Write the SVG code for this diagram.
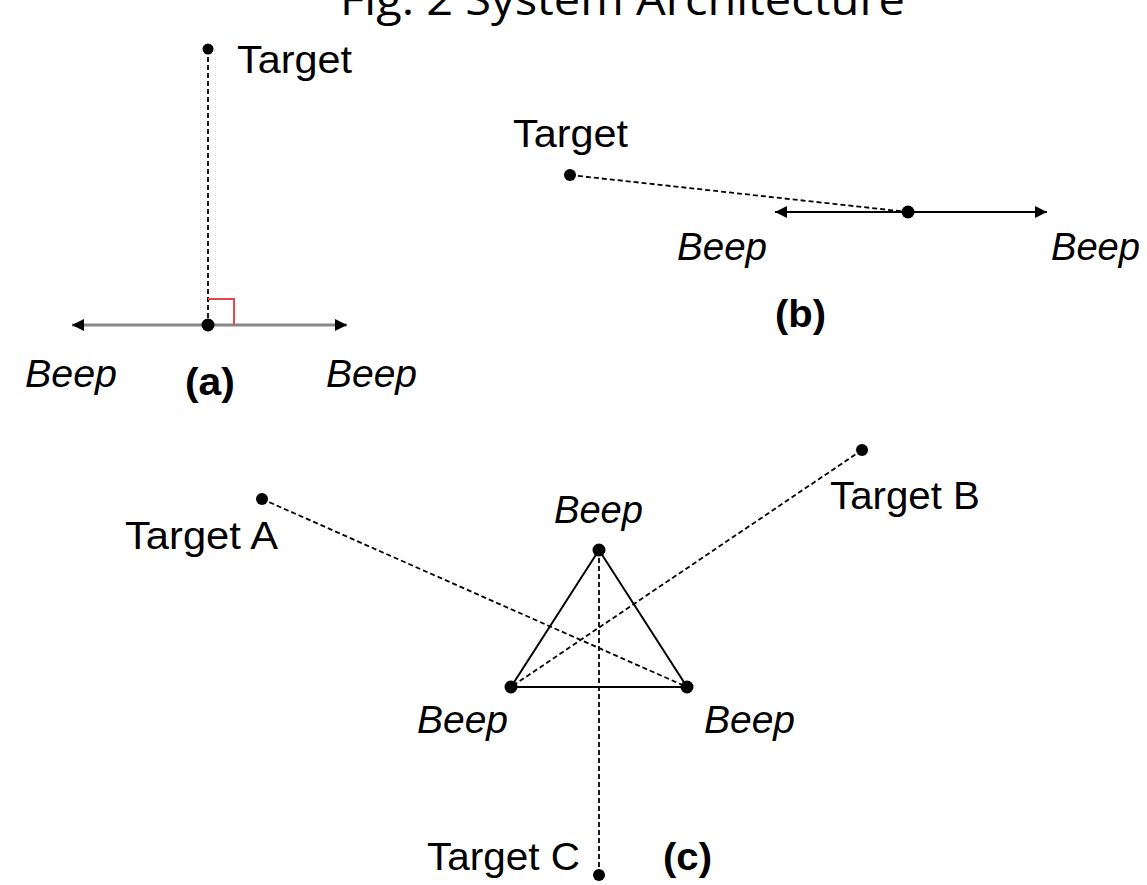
<svg xmlns="http://www.w3.org/2000/svg" width="1147" height="885" viewBox="0 0 1147 885">
<defs>
<style>
.lbl{font-family:"Liberation Sans",Arial,sans-serif;font-size:38px;fill:#000}
.it{font-style:italic}
.bd{font-weight:bold}
.dash{stroke:#000;stroke-width:1.8;stroke-dasharray:5 3;fill:none}
.solid{stroke:#000;stroke-width:2;fill:none}
.dot{fill:#000}
</style>
<marker id="ah" viewBox="0 0 10 10" refX="10" refY="5" markerWidth="13" markerHeight="12" markerUnits="userSpaceOnUse" orient="auto-start-reverse">
<path d="M0,0 L10,5 L0,10 Z" fill="#000"/>
</marker>
</defs>
<rect width="1147" height="885" fill="#fff"/>
<text x="340" y="15" font-family="'Open Sans',Carlito,sans-serif" font-size="44" textLength="565" lengthAdjust="spacingAndGlyphs">Fig. 2 System Architecture</text>

<g id="connectors">
<line class="dash" x1="208" y1="49" x2="208" y2="325"/>
<line x1="72" y1="325" x2="347" y2="325" stroke="#888" stroke-width="3" marker-start="url(#ah)" marker-end="url(#ah)"/>
<polyline points="208,299 234,299 234,325" fill="none" stroke="#e8474a" stroke-width="2"/>
<line class="dash" x1="570" y1="175" x2="908" y2="212"/>
<line class="solid" x1="775" y1="212" x2="1047" y2="212" marker-start="url(#ah)" marker-end="url(#ah)"/>
<polygon class="solid" points="599,550 511,687 687,687"/>
<line class="dash" x1="262" y1="499" x2="687" y2="687"/>
<line class="dash" x1="862" y1="450" x2="511" y2="687"/>
<line class="dash" x1="599" y1="550" x2="599" y2="875"/>
</g>

<g id="panel-a">
<g id="a-target"><circle class="dot" cx="208" cy="49" r="5.5"/><text class="lbl" x="237" y="73" textLength="115" lengthAdjust="spacingAndGlyphs">Target</text></g>
<g id="a-center"><circle class="dot" cx="208" cy="325" r="6.5"/></g>
<g id="a-beep-left"><text class="lbl it" x="25" y="387" textLength="92" lengthAdjust="spacingAndGlyphs">Beep</text></g>
<g id="a-beep-right"><text class="lbl it" x="326" y="387" textLength="91" lengthAdjust="spacingAndGlyphs">Beep</text></g>
<g id="a-label"><text class="lbl bd" x="185" y="395" textLength="50" lengthAdjust="spacingAndGlyphs">(a)</text></g>
</g>

<g id="panel-b">
<g id="b-target"><circle class="dot" cx="570" cy="175" r="6"/><text class="lbl" x="513" y="147" textLength="115" lengthAdjust="spacingAndGlyphs">Target</text></g>
<g id="b-center"><circle class="dot" cx="908" cy="212" r="6.5"/></g>
<g id="b-beep-left"><text class="lbl it" x="677" y="260" textLength="90" lengthAdjust="spacingAndGlyphs">Beep</text></g>
<g id="b-beep-right"><text class="lbl it" x="1051" y="260" textLength="89" lengthAdjust="spacingAndGlyphs">Beep</text></g>
<g id="b-label"><text class="lbl bd" x="775" y="327" textLength="51" lengthAdjust="spacingAndGlyphs">(b)</text></g>
</g>

<g id="panel-c">
<g id="c-target-a"><circle class="dot" cx="262" cy="499" r="6"/><text class="lbl" x="125" y="549" textLength="153" lengthAdjust="spacingAndGlyphs">Target A</text></g>
<g id="c-target-b"><circle class="dot" cx="862" cy="450" r="6"/><text class="lbl" x="830" y="509" textLength="150" lengthAdjust="spacingAndGlyphs">Target B</text></g>
<g id="c-target-c"><circle class="dot" cx="599" cy="875" r="6"/><text class="lbl" x="427" y="870" textLength="153" lengthAdjust="spacingAndGlyphs">Target C</text></g>
<g id="c-beep-top"><circle class="dot" cx="599" cy="550" r="6.5"/><text class="lbl it" x="554" y="523" textLength="89" lengthAdjust="spacingAndGlyphs">Beep</text></g>
<g id="c-beep-left"><circle class="dot" cx="511" cy="687" r="6.5"/><text class="lbl it" x="417" y="733" textLength="91" lengthAdjust="spacingAndGlyphs">Beep</text></g>
<g id="c-beep-right"><circle class="dot" cx="687" cy="687" r="6.5"/><text class="lbl it" x="704" y="733" textLength="91" lengthAdjust="spacingAndGlyphs">Beep</text></g>
<g id="c-label"><text class="lbl bd" x="663" y="870" textLength="49" lengthAdjust="spacingAndGlyphs">(c)</text></g>
</g>
</svg>
